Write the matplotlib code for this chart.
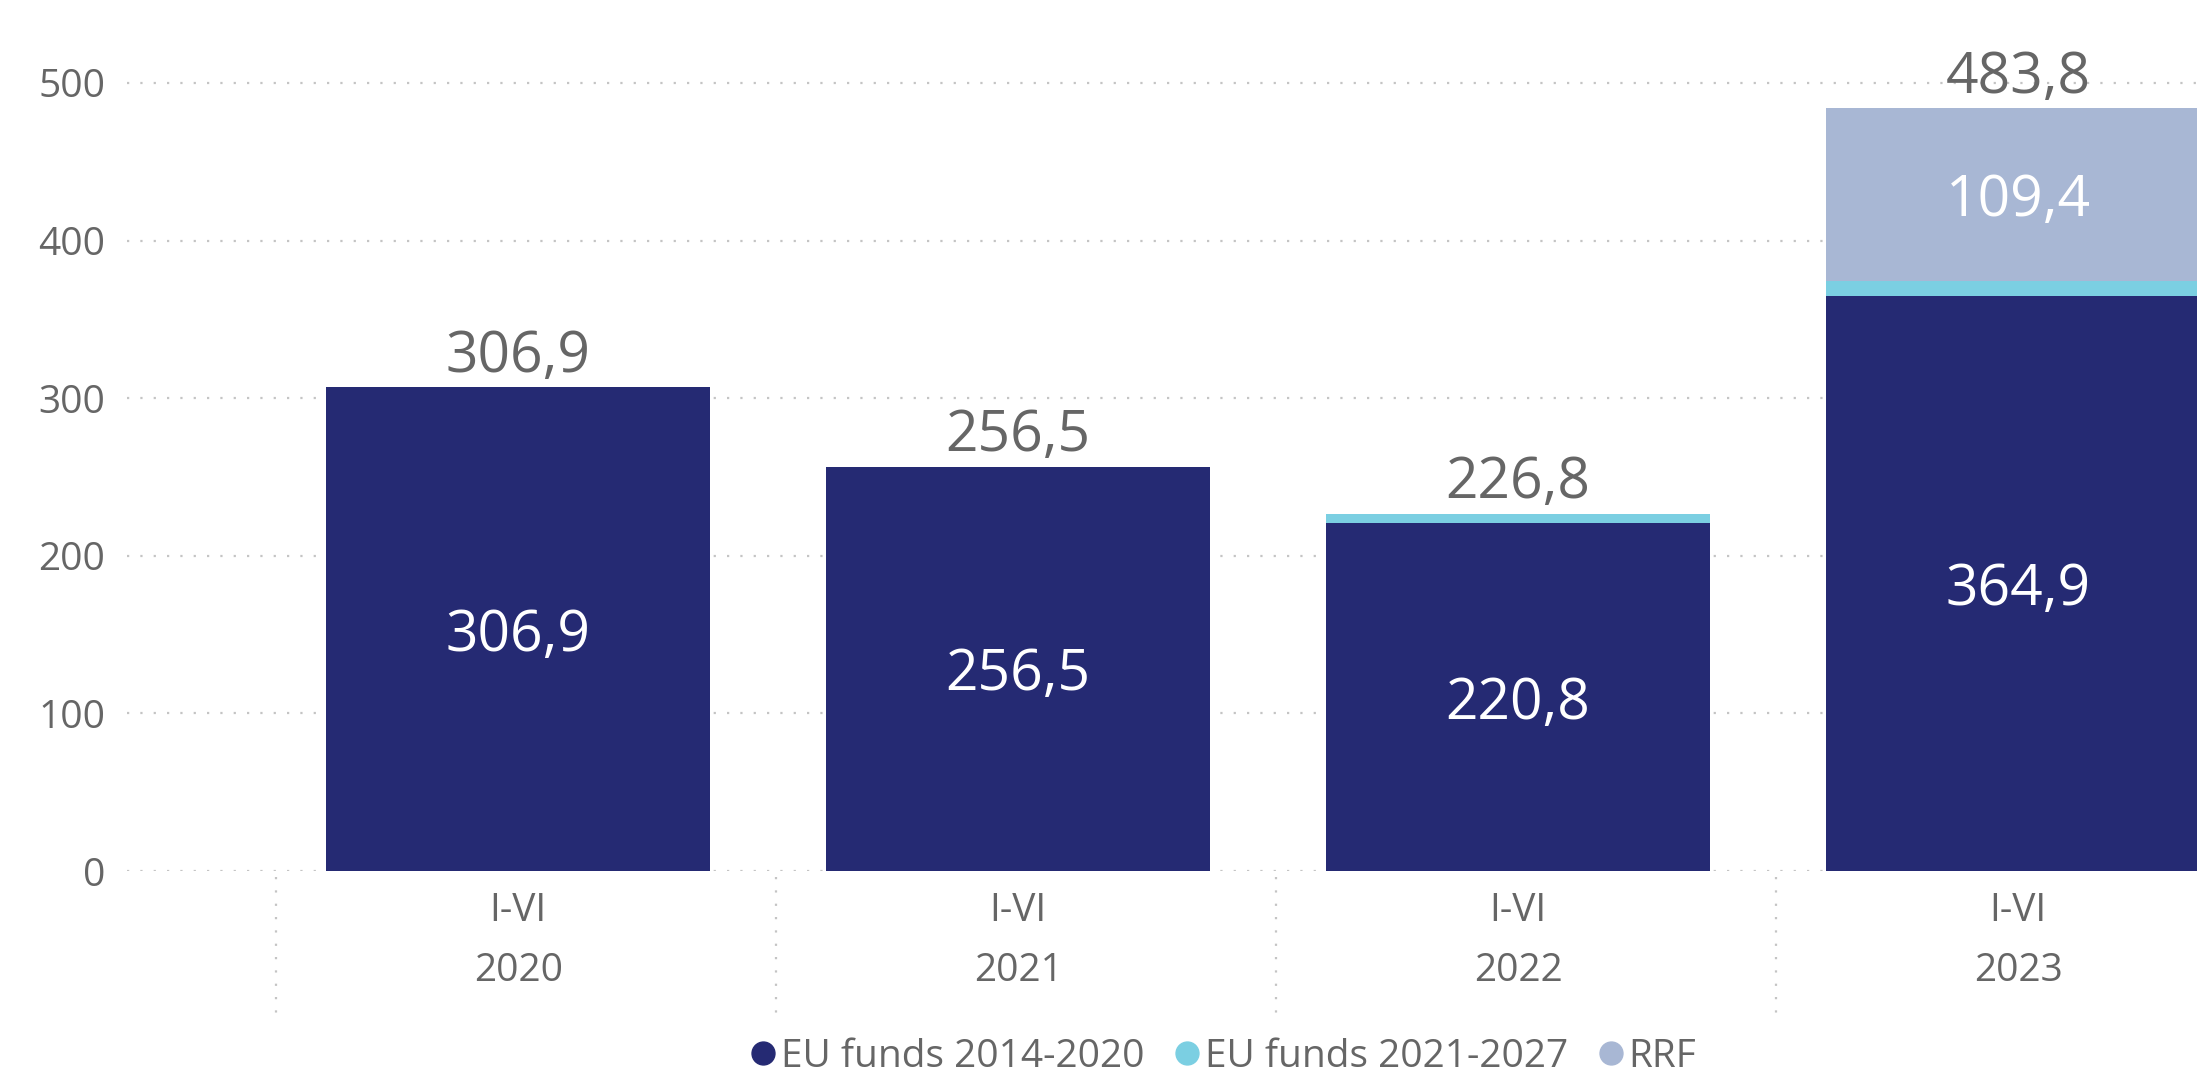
import matplotlib.pyplot as plt
import numpy as np
from matplotlib.lines import Line2D

periods = ['I-VI\n2020', 'I-VI\n2021', 'I-VI\n2022', 'I-VI\n2023']
eu_2014 = [306.9, 256.5, 220.8, 364.9]
eu_2021 = [0.0, 0.0, 5.8, 9.5]
rrf = [0.0, 0.0, 0.2, 109.4]
series_names = ['EU funds 2014-2020', 'EU funds 2021-2027', 'RRF']
colors = ['#252A73', '#7BCFE2', '#A8B7D4']
grey = '#666666'

plt.rcParams['font.family'] = ['Open Sans', 'DejaVu Sans']

fig = plt.figure(figsize=(21.97, 10.74), dpi=100)
ax = fig.add_axes([0.058, 0.189, 0.942, 0.811])

x = np.arange(len(periods))
width = 0.768
series = [eu_2014, eu_2021, rrf]
bottom = np.zeros(len(periods))
for vals, name, c in zip(series, series_names, colors):
    vals = np.array(vals)
    bars = ax.bar(x, vals, width, bottom=bottom, color=c, label=name, zorder=2)
    for b, v, y0 in zip(bars, vals, bottom):
        if v > 50:
            ax.text(b.get_x() + b.get_width() / 2, y0 + v / 2,
                    f'{v:.1f}'.replace('.', ','), ha='center', va='center_baseline',
                    color='white', fontsize=41, zorder=3)
    bottom += vals

# totals above the bars
for xi, tot in zip(x, bottom):
    ax.annotate(f'{tot:.1f}'.replace('.', ','), (xi, tot), xytext=(0, 11),
                textcoords='offset points', ha='center', va='baseline',
                color=grey, fontsize=41, annotation_clip=False)

ax.set_ylim(0, 552.6)
ax.set_xlim(-0.782, 3.358)
ax.set_yticks([0, 100, 200, 300, 400, 500])
ax.yaxis.grid(True, linestyle=(0, (1, 5)), color='#C4C4C4', linewidth=1.6, zorder=1)
ax.set_xticks(x)
ax.set_xticklabels(periods, linespacing=1.75)
ax.tick_params(axis='both', length=0, labelsize=28, labelcolor=grey)
ax.tick_params(axis='y', pad=16)
ax.tick_params(axis='x', pad=15)
for s in ax.spines.values():
    s.set_visible(False)

# dotted separators between categories, below the plot
for xi in x:
    ax.plot([xi - 0.484, xi - 0.484], [-4, -90], linestyle=(0, (1, 5)),
            color='#C4C4C4', linewidth=1.6, clip_on=False)

handles = [Line2D([], [], marker='o', linestyle='', markersize=16.5, color=c) for c in colors]
fig.legend(handles, series_names, loc='center', bbox_to_anchor=(0.557, 0.016),
           ncol=3, frameon=False, fontsize=28, labelcolor=grey,
           handlelength=0.6, handletextpad=0.15, columnspacing=0.8,
           borderpad=0, borderaxespad=0)

fig.savefig('out.png', dpi=100)
